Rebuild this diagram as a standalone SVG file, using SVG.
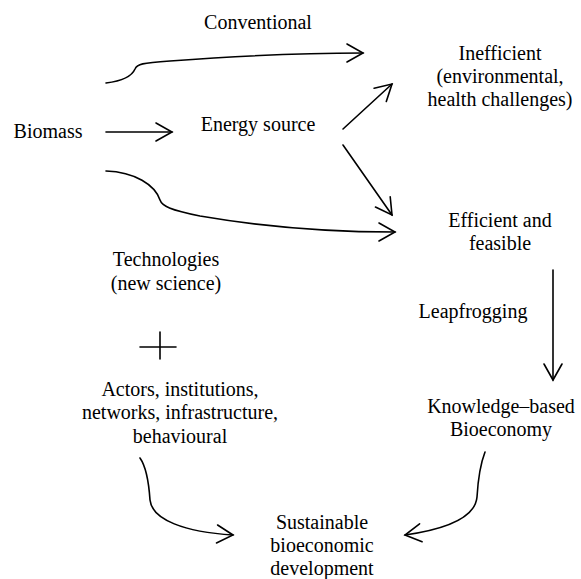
<svg xmlns="http://www.w3.org/2000/svg" width="581" height="579" viewBox="0 0 581 579">
<defs>
<style>
text{font-size:20px;fill:#000;text-anchor:middle}
.c{fill:none;stroke:#000;stroke-width:1.6;stroke-linecap:round}
</style>
<marker id="ah" markerUnits="userSpaceOnUse" markerWidth="40" markerHeight="40" viewBox="-20 -20 40 40" refX="0" refY="0" orient="auto" overflow="visible">
<path d="M-16,-9 L0,0 L-16,9" fill="none" stroke="#000" stroke-width="1.6" stroke-linecap="round" stroke-linejoin="miter"/>
</marker>
</defs>
<rect width="581" height="579" fill="#fff"/>
<g id="connectors">
<path class="c" d="M106,83 C122,81 132,76 135,69 C137,64 142,63 170,61 C250,55 320,53 363,53" marker-end="url(#ah)"/>
<path class="c" d="M106,132 L172,132" marker-end="url(#ah)"/>
<path class="c" d="M106,171 C135,172 155,185 160,200 C162,206 170,210 200,216 C270,228 330,232 395,232" marker-end="url(#ah)"/>
<path class="c" d="M343,129 L392,84" marker-end="url(#ah)"/>
<path class="c" d="M343,145 L392,215" marker-end="url(#ah)"/>
<path class="c" d="M553,270 L553,380" marker-end="url(#ah)"/>
<path class="c" d="M140,458 C147,468 149,485 150,500 C152,520 185,532 233,535" marker-end="url(#ah)"/>
<path class="c" d="M485,452 C480,465 478,480 477,497 C475,520 440,530 405,535" marker-end="url(#ah)"/>
</g>
<g font-family="Liberation Serif, DejaVu Serif, serif">
<g id="conventional"><text x="258" y="29">Conventional</text></g>
<g id="biomass"><text x="48" y="138">Biomass</text></g>
<g id="energy-source"><text x="258" y="131">Energy source</text></g>
<g id="inefficient"><text x="500" y="60">Inefficient</text><text x="500" y="83">(environmental,</text><text x="500" y="106">health challenges)</text></g>
<g id="efficient"><text x="500" y="227">Efficient and</text><text x="500" y="250">feasible</text></g>
<g id="technologies"><text x="166" y="266">Technologies</text><text x="166" y="290">(new science)</text></g>
<g id="plus"><path class="c" d="M140,347 L176,347 M160,332 L160,359"/></g>
<g id="leapfrogging"><text x="473" y="318">Leapfrogging</text></g>
<g id="actors"><text x="180" y="396">Actors, institutions,</text><text x="180" y="419">networks, infrastructure,</text><text x="180" y="443">behavioural</text></g>
<g id="bioeconomy"><text x="501" y="413">Knowledge–based</text><text x="501" y="436">Bioeconomy</text></g>
<g id="sustainable"><text x="322" y="529">Sustainable</text><text x="322" y="552">bioeconomic</text><text x="322" y="575">development</text></g>
</g>
</svg>
